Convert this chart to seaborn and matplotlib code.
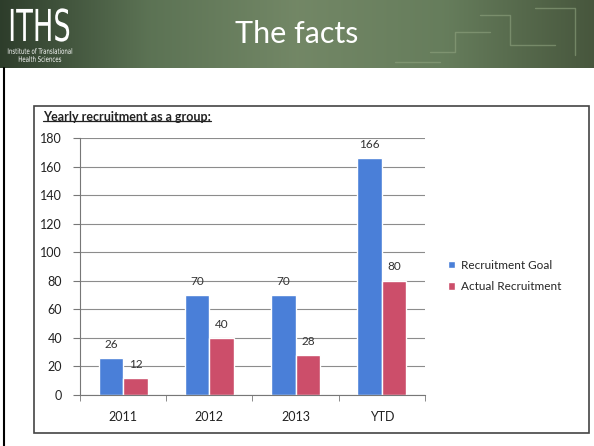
import numpy as np
import pandas as pd
import matplotlib
matplotlib.use("Agg")
import matplotlib.pyplot as plt
from matplotlib.lines import Line2D
from matplotlib.patches import Rectangle, PathPatch
from matplotlib.textpath import TextPath
from matplotlib.font_manager import FontProperties
from matplotlib.transforms import Affine2D
import seaborn as sns

# Chart data
years = ["2011", "2012", "2013", "YTD"]
goal = [26, 70, 70, 166]
actual = [12, 40, 28, 80]
series_names = ["Recruitment Goal", "Actual Recruitment"]
colors = ["#4a7fd8", "#cc4e6a"]

df = pd.DataFrame({
    "year": years * 2,
    "value": goal + actual,
    "series": [series_names[0]] * len(years) + [series_names[1]] * len(years),
})

sns.set_style("white")
plt.rcParams["font.family"] = ["Lato", "DejaVu Sans"]

W, H = 594, 446
fig = plt.figure(figsize=(W / 100, H / 100), dpi=100)
fig.patch.set_facecolor("white")

# Header banner (green gradient), drawn in pixel coordinates
head = fig.add_axes([0, 1 - 68 / H, 1, 68 / H])
xs = np.linspace(0, 1, 300)
stops = np.array([[0.18, 0.24, 0.17], [0.36, 0.45, 0.33], [0.45, 0.53, 0.40],
                  [0.40, 0.49, 0.36], [0.28, 0.34, 0.24]])
pos = np.linspace(0, 1, len(stops))
grad = np.stack([np.interp(xs, pos, stops[:, c]) for c in range(3)], axis=-1)
head.imshow(grad[None, :, :], aspect="auto", extent=[0, W, 68, 0])
head.set_xlim(0, W)
head.set_ylim(68, 0)
head.axis("off")

# faint circuit lines on the right of the banner
for seg in [([430, 455, 455, 490], [52, 52, 32, 32]),
            ([480, 510, 510, 555], [15, 15, 45, 45]),
            ([535, 575, 575], [8, 8, 55]),
            ([395, 440], [62, 62])]:
    head.plot(seg[0], seg[1], color="#8fa37f", lw=1, alpha=0.6)


def condensed_text(ax, s, x, y, size, sx, weight="normal", family="DejaVu Sans"):
    # draws text squeezed horizontally by sx, centred at (x, y) in pixel units
    tp = TextPath((0, 0), s, size=size, prop=FontProperties(family=family, weight=weight))
    ext = tp.get_extents()
    tr = (Affine2D().translate(-(ext.x0 + ext.x1) / 2, -(ext.y0 + ext.y1) / 2)
          .scale(sx, -1).translate(x, y))
    ax.add_patch(PathPatch(tr.transform_path(tp), facecolor="white", edgecolor="none"))


condensed_text(head, "ITHS", 40, 25, 44, 0.62)
condensed_text(head, "Institute of Translational", 40, 51, 7.5, 0.72)
condensed_text(head, "Health Sciences", 40, 59, 7.5, 0.72)
head.text(W / 2, 34, "The facts", color="white", fontsize=22,
          family=["Lato", "DejaVu Sans"], ha="center", va="center")

# slide left border
fig.add_artist(Line2D([4 / W, 4 / W], [0, 1 - 68 / H], color="black", lw=1.5,
                      transform=fig.transFigure))

# chart frame
fig.add_artist(Rectangle((34 / W, (H - 433) / H), (589 - 34) / W, (433 - 106) / H,
                         fill=False, edgecolor="#444444", lw=1.2,
                         transform=fig.transFigure))

title = fig.text(43 / W, 1 - 117 / H, "Yearly recruitment as a group:", fontsize=9,
                 fontweight="bold", color="#222222", ha="left", va="center")

# Main plot
ax = fig.add_axes([80 / W, (H - 395) / H, 345 / W, 257 / H])
sns.barplot(data=df, x="year", y="value", hue="series", palette=colors,
            width=0.57, saturation=1, ax=ax, legend=True)

for cont in ax.containers:
    ax.bar_label(cont, padding=6, fontsize=8.5, color="#333333")

ax.set_ylim(0, 180)
ax.set_yticks(range(0, 181, 20))
ax.set_xlim(-0.5, len(years) - 0.5)
ax.yaxis.grid(True, color="#8c8c8c", lw=0.8)
ax.set_axisbelow(True)
ax.set_xlabel("")
ax.set_ylabel("")
for s in ["top", "right"]:
    ax.spines[s].set_visible(False)
ax.spines["left"].set_color("#777777")
ax.spines["bottom"].set_color("#777777")
ax.tick_params(axis="y", left=True, length=5, color="#777777", labelsize=9,
               labelcolor="#222222", pad=8)
ax.tick_params(axis="x", bottom=False, labelsize=9, labelcolor="#222222", pad=8)
ax.set_xticks(np.arange(-0.5, len(years), 1.0), minor=True)
ax.tick_params(axis="x", which="minor", bottom=True, length=4, color="#777777")

leg = ax.legend(loc="center left", bbox_to_anchor=(437 / W, 1 - 276 / H),
                bbox_transform=fig.transFigure, frameon=False, fontsize=8.5,
                handlelength=0.6, handleheight=0.6, handletextpad=0.5,
                labelspacing=0.9)

# underline for the chart title
fig.canvas.draw()
bb = title.get_window_extent().transformed(fig.transFigure.inverted())
fig.add_artist(Line2D([bb.x0, bb.x1], [bb.y0 + 0.004, bb.y0 + 0.004], color="#222222",
                      lw=0.9, transform=fig.transFigure))

fig.savefig("out.png", dpi=100)
